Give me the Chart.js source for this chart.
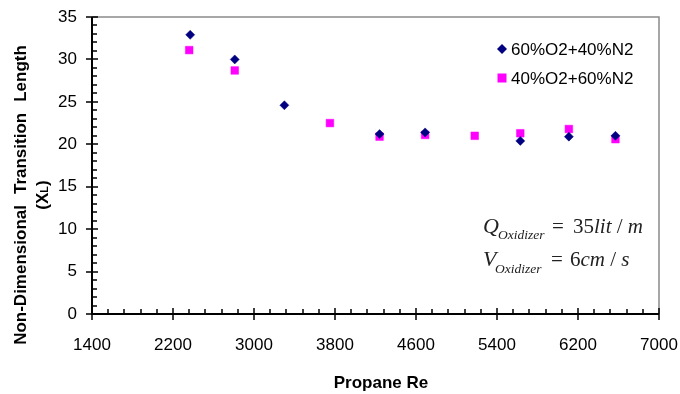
<!DOCTYPE html>
<html>
<head>
<meta charset="utf-8">
<script src="https://cdn.jsdelivr.net/npm/chart.js@4.4.0/dist/chart.umd.min.js"></script>
<style>
  html, body { margin: 0; padding: 0; background: #fff; }
  canvas { display: block; }
</style>
</head>
<body>
<canvas id="reChart" width="680" height="394"></canvas>
<script>
// series
var seriesNames = ['60%O2+40%N2', '40%O2+60%N2'];
var reHigh = [2370, 2810, 3300, 4240, 4690, 5630, 6110, 6570];
var xlHigh = [32.9, 30.0, 24.6, 21.2, 21.4, 20.4, 20.9, 21.0];
var reLow = [2360, 2810, 3750, 4240, 4690, 5180, 5630, 6110, 6570];
var xlLow = [31.1, 28.7, 22.5, 20.9, 21.1, 21.0, 21.3, 21.8, 20.6];

var reTicks = [1400, 2200, 3000, 3800, 4600, 5400, 6200, 7000];
var xlTicks = [0, 5, 10, 15, 20, 25, 30, 35];

function toPoints(xs, ys) {
  var pts = [];
  for (var i = 0; i < xs.length; i++) {
    pts.push({ x: xs[i], y: ys[i] });
  }
  return pts;
}

// ticks, frame, titles, legend and the flow-rate note
var decorPlugin = {
  id: 'decor',
  afterDraw: function(chart) {
    var ctx = chart.ctx;
    var xs = chart.scales.x;
    var ys = chart.scales.y;
    var a = chart.chartArea;
    var i, j, p, v;
    ctx.save();

    // grey frame on top and right
    ctx.strokeStyle = '#8a8a8a';
    ctx.lineWidth = 1.5;
    ctx.beginPath();
    ctx.moveTo(a.left, a.top);
    ctx.lineTo(a.right, a.top);
    ctx.lineTo(a.right, a.bottom);
    ctx.stroke();

    // axis lines
    ctx.strokeStyle = '#000';
    ctx.lineWidth = 2;
    ctx.beginPath();
    ctx.moveTo(a.left, a.top);
    ctx.lineTo(a.left, a.bottom);
    ctx.lineTo(a.right, a.bottom);
    ctx.stroke();

    // x ticks: majors cross the axis, 4 minors inside
    ctx.lineWidth = 1.5;
    ctx.beginPath();
    for (i = 0; i < reTicks.length; i++) {
      p = Math.round(xs.getPixelForValue(reTicks[i]));
      ctx.moveTo(p, a.bottom - 6);
      ctx.lineTo(p, a.bottom + 6);
      if (i < reTicks.length - 1) {
        for (j = 1; j < 5; j++) {
          v = reTicks[i] + (reTicks[i + 1] - reTicks[i]) * j / 5;
          p = Math.round(xs.getPixelForValue(v));
          ctx.moveTo(p, a.bottom - 5);
          ctx.lineTo(p, a.bottom);
        }
      }
    }
    // y ticks
    for (i = 0; i < xlTicks.length; i++) {
      p = Math.round(ys.getPixelForValue(xlTicks[i]));
      ctx.moveTo(a.left - 6, p);
      ctx.lineTo(a.left + 6, p);
      if (i < xlTicks.length - 1) {
        for (j = 1; j < 5; j++) {
          v = xlTicks[i] + (xlTicks[i + 1] - xlTicks[i]) * j / 5;
          p = Math.round(ys.getPixelForValue(v));
          ctx.moveTo(a.left, p);
          ctx.lineTo(a.left + 5, p);
        }
      }
    }
    ctx.stroke();

    ctx.fillStyle = '#000';

    // x title
    ctx.font = 'bold 17px "Liberation Sans", Arial, sans-serif';
    ctx.textAlign = 'center';
    ctx.textBaseline = 'middle';
    ctx.fillText('Propane Re', 381, 383);

    // y title, two lines, wider word gaps like the original
    ctx.save();
    ctx.translate(21, 195);
    ctx.rotate(-Math.PI / 2);
    var words = ['Non-Dimensional', 'Transition', 'Length'];
    var gap = 11;
    var total = 0;
    for (i = 0; i < words.length; i++) total += ctx.measureText(words[i]).width;
    total += gap * (words.length - 1);
    var cx = -total / 2;
    ctx.textAlign = 'left';
    for (i = 0; i < words.length; i++) {
      ctx.fillText(words[i], cx, 0);
      cx += ctx.measureText(words[i]).width + gap;
    }
    // (X_L)
    ctx.translate(0, 22);
    var w1 = ctx.measureText('(X').width;
    ctx.font = 'bold 11px "Liberation Sans", Arial, sans-serif';
    var w2 = ctx.measureText('L').width;
    ctx.font = 'bold 17px "Liberation Sans", Arial, sans-serif';
    var w3 = ctx.measureText(')').width;
    var sx = -(w1 + w2 + w3) / 2;
    ctx.fillText('(X', sx, 0);
    ctx.font = 'bold 11px "Liberation Sans", Arial, sans-serif';
    ctx.fillText('L', sx + w1, 2);
    ctx.font = 'bold 17px "Liberation Sans", Arial, sans-serif';
    ctx.fillText(')', sx + w1 + w2, 0);
    ctx.restore();

    // legend inside the plot
    var ds = chart.data.datasets;
    var legY = [49, 78];
    ctx.font = '17px "Liberation Sans", Arial, sans-serif';
    ctx.textAlign = 'left';
    ctx.textBaseline = 'middle';
    for (i = 0; i < ds.length; i++) {
      ctx.fillStyle = ds[i].backgroundColor;
      ctx.beginPath();
      if (ds[i].pointStyle === 'rectRot') {
        ctx.moveTo(502, legY[i] - 5);
        ctx.lineTo(507, legY[i]);
        ctx.lineTo(502, legY[i] + 5);
        ctx.lineTo(497, legY[i]);
        ctx.closePath();
      } else {
        ctx.rect(497.5, legY[i] - 4.5, 9, 9);
      }
      ctx.fill();
      ctx.fillStyle = '#000';
      ctx.fillText(ds[i].label, 511, legY[i] + 1);
    }

    // flow note in serif math style
    function drawRun(parts, x, y) {
      for (var k = 0; k < parts.length; k++) {
        ctx.font = parts[k][1];
        ctx.fillText(parts[k][0], x, y + (parts[k][2] || 0));
        x += ctx.measureText(parts[k][0]).width;
      }
    }
    var itBig = 'italic 22px "Liberation Serif", "Times New Roman", serif';
    var itSub = 'italic 13.5px "Liberation Serif", "Times New Roman", serif';
    var rom = '21px "Liberation Serif", "Times New Roman", serif';
    var it = 'italic 21px "Liberation Serif", "Times New Roman", serif';
    ctx.textBaseline = 'alphabetic';
    ctx.fillStyle = '#222';
    drawRun([['Q', itBig, 0]], 483, 233);
    drawRun([['Oxidizer', itSub, 6]], 498, 233);
    drawRun([['=', rom, 0]], 552, 233);
    drawRun([['35', rom, 0], ['lit', it, 0], [' / ', rom, 0], ['m', it, 0]], 573, 233);
    drawRun([['V', itBig, 0]], 483, 266);
    drawRun([['Oxidizer', itSub, 7]], 495, 266);
    drawRun([['=', rom, 0]], 551, 266);
    drawRun([['6', rom, 0], ['cm', it, 0], [' / ', rom, 0], ['s', it, 0]], 570, 266);

    ctx.restore();
  }
};

var tickFont = { family: '"Liberation Sans", Arial, sans-serif', size: 17 };

new Chart(document.getElementById('reChart').getContext('2d'), {
  type: 'scatter',
  data: {
    datasets: [{
      label: seriesNames[0],
      data: toPoints(reHigh, xlHigh),
      pointStyle: 'rectRot',
      pointRadius: 4.5,
      pointBorderWidth: 0.5,
      backgroundColor: '#000080',
      borderColor: '#000080'
    }, {
      label: seriesNames[1],
      data: toPoints(reLow, xlLow),
      pointStyle: 'rect',
      pointRadius: 5.4,
      pointBorderWidth: 0.5,
      backgroundColor: '#FF00FF',
      borderColor: '#FF00FF'
    }]
  },
  options: {
    responsive: false,
    animation: false,
    devicePixelRatio: 1,
    layout: { padding: { top: 17, right: 21, left: 0, bottom: 0 } },
    plugins: {
      legend: { display: false },
      tooltip: { enabled: false }
    },
    scales: {
      x: {
        type: 'linear',
        min: 1400,
        max: 7000,
        afterBuildTicks: function(s) {
          s.ticks = reTicks.map(function(v) { return { value: v }; });
        },
        afterFit: function(s) {
          s.height = 80;
          s.paddingLeft = 0;
          s.paddingRight = 0;
        },
        grid: { display: false, drawTicks: false },
        border: { display: false },
        ticks: {
          padding: 21,
          maxRotation: 0,
          color: '#000',
          font: tickFont,
          callback: function(v) { return String(v); }
        }
      },
      y: {
        min: 0,
        max: 35,
        afterBuildTicks: function(s) {
          s.ticks = xlTicks.map(function(v) { return { value: v }; });
        },
        afterFit: function(s) {
          s.width = 92;
          s.paddingTop = 0;
          s.paddingBottom = 0;
        },
        grid: { display: false, drawTicks: false },
        border: { display: false },
        ticks: {
          padding: 15,
          color: '#000',
          font: tickFont,
          callback: function(v) { return String(v); }
        }
      }
    }
  },
  plugins: [decorPlugin]
});
</script>
</body>
</html>
